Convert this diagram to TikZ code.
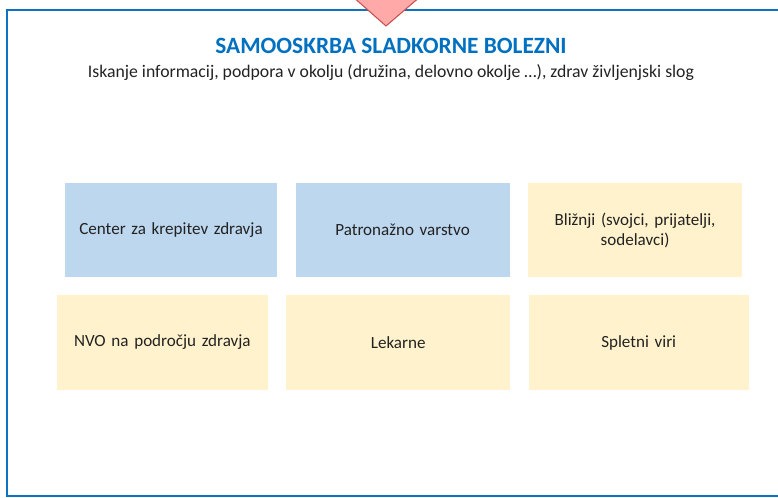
\documentclass[tikz,border=0pt]{standalone}
\usepackage{fontspec}
\setmainfont{Carlito}
\usetikzlibrary{positioning}
\definecolor{frameBlue}{HTML}{0B72C4}
\definecolor{titleBlue}{HTML}{0070C0}
\definecolor{boxBlue}{HTML}{BDD7EE}
\definecolor{boxYellow}{HTML}{FFF2CC}
\definecolor{arrowPink}{HTML}{FFA9A9}
\definecolor{arrowRed}{HTML}{C9504D}
\definecolor{textGray}{HTML}{222222}
\tikzstyle{blueBox} = [rectangle, minimum width=159pt, minimum height=70pt, text width=150pt, align=center, fill=boxBlue, text=textGray, font=\fontsize{12.8}{15}\selectfont]
\tikzstyle{yellowBox} = [rectangle, minimum width=159pt, minimum height=70pt, text width=150pt, align=center, fill=boxYellow, text=textGray, font=\fontsize{12.8}{15}\selectfont]
\tikzstyle{frame} = [draw=frameBlue, line width=1.8pt]
\tikzstyle{pointer} = [draw=arrowRed, fill=arrowPink, line width=0.8pt, line join=round]

\begin{document}
\begin{tikzpicture}[x=0.75pt, y=-0.75pt, node distance=13.5pt]
\useasboundingbox (0,0) rectangle (778,498);

\draw [frame] (7,10) rectangle (800,496);
\draw [pointer] (352,-4) -- (421,-4) -- (386,26) -- cycle;

\node (title) [font=\bfseries\fontsize{17.5}{20}\selectfont, text=titleBlue] at (391,46) {SAMOOSKRBA SLADKORNE BOLEZNI};
\node (subtitle) [font=\fontsize{13.3}{15}\selectfont, text=textGray] at (391,73) {Iskanje informacij, podpora v okolju (družina, delovno okolje …), zdrav življenjski slog};

\node (center) [blueBox] at (171,230) {Center za krepitev zdravja};
\node (patronaza) [blueBox, right=of center, minimum width=160.5pt] {Patronažno varstvo};
\node (bliznji) [yellowBox, right=of patronaza, minimum width=160.5pt] {Bližnji (svojci, prijatelji,\\ sodelavci)};

\node (nvo) [yellowBox, below=of center, xshift=-6.5pt, minimum width=158pt, minimum height=71pt] {NVO na področju zdravja};
\node (lekarne) [yellowBox, right=of nvo, minimum width=168pt, minimum height=71pt] {Lekarne};
\node (splet) [yellowBox, right=of lekarne, minimum width=165pt, minimum height=71pt] {Spletni viri};
\end{tikzpicture}
\end{document}
